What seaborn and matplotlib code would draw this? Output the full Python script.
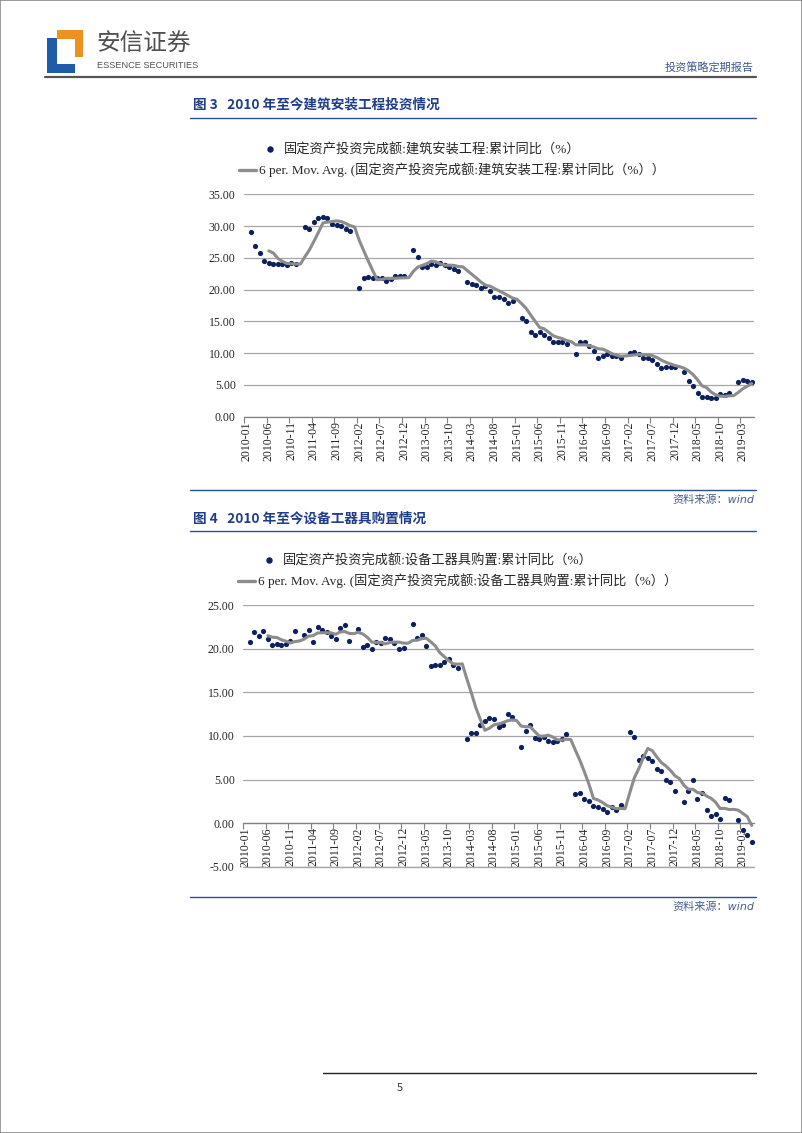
import matplotlib
matplotlib.use('Agg')
import matplotlib.pyplot as plt
import matplotlib.patches as mpatches
from matplotlib.lines import Line2D
import numpy as np
import pandas as pd
import seaborn as sns

sns.set_theme(style='white')
plt.rcParams['font.family'] = ['Noto Sans CJK SC', 'DejaVu Sans']

nan = np.nan

# monthly categories, 2010-01 .. 2019-05 (January has no data point)
months = pd.date_range('2010-01-01', '2019-05-01', freq='MS').strftime('%Y-%m').tolist()

# 固定资产投资完成额:建筑安装工程:累计同比(%)
build_yoy = [
    nan, 29.1, 26.9, 25.8, 24.5, 24.2, 24.1, 24.0, 24.1, 23.8, 24.2, 24.0,   # 2010
    nan, 29.8, 29.5, 30.6, 31.2, 31.4, 31.2, 30.4, 30.1, 30.0, 29.5, 29.3,   # 2011
    nan, 20.2, 21.8, 22.0, 21.9, 21.9, 21.8, 21.3, 21.7, 22.1, 22.2, 22.1,   # 2012
    nan, 26.2, 25.1, 23.5, 23.5, 24.1, 23.9, 24.2, 23.8, 23.6, 23.3, 23.0,   # 2013
    nan, 21.2, 20.9, 20.7, 20.2, 20.5, 19.8, 18.9, 18.8, 18.5, 17.9, 18.2,   # 2014
    nan, 15.6, 15.1, 13.3, 12.9, 13.3, 12.8, 12.4, 11.8, 11.7, 11.8, 11.4,   # 2015
    nan, 9.9, 11.7, 11.8, 11.1, 10.3, 9.3, 9.6, 9.8, 9.5, 9.6, 9.3,          # 2016
    nan, 10.0, 10.2, 9.9, 9.3, 9.3, 8.9, 8.3, 7.7, 7.8, 7.8, 7.8,            # 2017
    nan, 7.1, 5.6, 4.8, 3.7, 3.1, 3.1, 3.0, 3.0, 3.5, 3.4, 3.7,              # 2018
    nan, 5.5, 5.8, 5.6, 5.5,                                                 # 2019
]

# 固定资产投资完成额:设备工器具购置:累计同比(%)
equip_yoy = [
    nan, 20.8, 22.0, 21.5, 22.1, 21.2, 20.5, 20.6, 20.4, 20.6, 20.9, 22.1,   # 2010
    nan, 21.6, 22.2, 20.8, 22.5, 22.2, 21.9, 21.5, 21.2, 22.4, 22.8, 20.9,   # 2011
    nan, 22.3, 20.2, 20.5, 20.0, 20.8, 20.7, 21.3, 21.2, 20.7, 20.0, 20.1,   # 2012
    nan, 22.9, 21.3, 21.6, 20.3, 18.0, 18.1, 18.2, 18.5, 18.8, 18.1, 17.8,   # 2013
    nan, 9.6, 10.4, 10.3, 11.3, 11.7, 12.1, 11.9, 11.0, 11.3, 12.5, 12.2,    # 2014
    nan, 8.7, 10.6, 11.3, 9.8, 9.6, 9.9, 9.4, 9.3, 9.4, 9.6, 10.2,           # 2015
    nan, 3.3, 3.5, 2.8, 2.5, 2.0, 1.8, 1.6, 1.3, 1.8, 1.45, 2.1,             # 2016
    nan, 10.5, 9.9, 7.2, 7.7, 7.5, 7.1, 6.2, 6.0, 4.9, 4.7, 3.7,             # 2017
    nan, 2.4, 3.7, 4.9, 2.8, 3.4, 1.45, 0.8, 1.07, 0.5, 2.9, 2.6,            # 2018
    nan, 0.34, -0.77, -1.34, -2.2,                                           # 2019
]

tick_idx = list(range(0, len(months), 5))
tick_labels = [months[i] for i in tick_idx]

DOT = '#0C1F5E'
MA = '#8C8C8C'
BLUE = '#2A4F96'
GRID = '#A6A6A6'
SERIF = ['Liberation Serif', 'Noto Sans CJK SC']

W, H = 802, 1133
fig = plt.figure(figsize=(W / 100, H / 100), dpi=100)


def fx(x):
    return x / W


def fy(y):
    return 1 - y / H


def hline(x0, x1, y, color, lw):
    fig.add_artist(Line2D([fx(x0), fx(x1)], [fy(y), fy(y)], transform=fig.transFigure,
                          color=color, lw=lw))


def draw_chart(box, values, ylim, name):
    left, top, right, bottom = box
    ax = fig.add_axes([fx(left), fy(bottom), (right - left) / W, (bottom - top) / H])
    df = pd.DataFrame({'idx': range(len(values)), 'val': values})
    # 6 period moving average, Excel style (blank months are skipped in the window)
    df['ma'] = df['val'].rolling(6, min_periods=1).mean()
    sns.scatterplot(data=df.dropna(subset=['val']), x='idx', y='val', ax=ax, color=DOT,
                    s=14, linewidth=0, zorder=3)
    sns.lineplot(data=df[df['idx'] >= 5], x='idx', y='ma', ax=ax, color=MA, lw=2.2, zorder=4)

    for s in ['left', 'right', 'top']:
        ax.spines[s].set_visible(False)
    ax.spines['bottom'].set_color('#808080')
    ax.spines['bottom'].set_linewidth(0.9)
    if ylim[0] < 0:
        ax.spines['bottom'].set_position(('data', 0))

    ax.set_xlim(-0.5, len(values) - 0.5)
    ax.set_ylim(ylim[0] - 0.05, ylim[1] + 0.05)
    yt = np.arange(ylim[0], ylim[1] + 0.1, 5)
    ax.set_yticks(yt)
    ax.set_yticklabels([f'{v:.2f}' for v in yt], family='Liberation Serif', fontsize=8.5)
    ax.set_xticks(tick_idx)
    ax.set_xticklabels(tick_labels, rotation=90, family='Liberation Serif', fontsize=8.5)
    ax.set_xticks(np.arange(-0.5, len(values), 5), minor=True)
    ax.tick_params(axis='x', which='major', length=0, pad=3)
    ax.tick_params(axis='x', which='minor', length=4, color='#808080', width=0.8,
                   direction='out', bottom=True)
    ax.tick_params(axis='y', length=0, pad=6)
    ax.set_xlabel('')
    ax.set_ylabel('')
    ax.yaxis.grid(True, color=GRID, lw=0.9)
    ax.xaxis.grid(False)
    if ylim[0] < 0:
        ax.axhline(ylim[0], color=GRID, lw=1.0, zorder=1, clip_on=False)

    # legend rows
    h_dot = Line2D([], [], ls='none', marker='o', ms=3.6, color=DOT)
    h_line = Line2D([], [], color=MA, lw=2.4)
    lbl1 = f'固定资产投资完成额:{name}:累计同比（%）'
    lbl2 = f'6 per. Mov. Avg. (固定资产投资完成额:{name}:累计同比（%））'
    leg1 = ax.legend([h_dot], [lbl1], loc='center left', bbox_to_anchor=(fx(left + 19), fy(top - 44)),
                     bbox_transform=fig.transFigure, frameon=False, handlelength=1.1,
                     handletextpad=0.5, borderpad=0, borderaxespad=0,
                     prop={'family': SERIF, 'size': 9.5})
    ax.add_artist(leg1)
    ax.legend([h_line], [lbl2], loc='center left', bbox_to_anchor=(fx(left - 5), fy(top - 24)),
              bbox_transform=fig.transFigure, frameon=False, handlelength=1.3,
              handletextpad=0.2, borderpad=0, borderaxespad=0,
              prop={'family': SERIF, 'size': 9.5})
    return ax


# page frame
fig.add_artist(mpatches.Rectangle((0, 0), 1, 1, transform=fig.transFigure, fill=False,
                                  ec='#8A8A8A', lw=1.2))

# header logo
fig.add_artist(mpatches.Rectangle((fx(57), fy(57)), 26 / W, 27 / H, transform=fig.transFigure,
                                  color='#F0901E', lw=0))
fig.add_artist(mpatches.Rectangle((fx(57), fy(64)), 18 / W, 25 / H, transform=fig.transFigure,
                                  color='white', lw=0))
fig.add_artist(mpatches.Rectangle((fx(47), fy(73)), 10 / W, 35 / H, transform=fig.transFigure,
                                  color='#1E5BA8', lw=0))
fig.add_artist(mpatches.Rectangle((fx(47), fy(73)), 28 / W, 9 / H, transform=fig.transFigure,
                                  color='#1E5BA8', lw=0))
fig.text(fx(96), fy(44), '安信证券', fontsize=17, color='#505050', va='center', ha='left')
fig.text(fx(97), fy(66), 'ESSENCE SECURITIES', fontsize=6.6, color='#505050', va='center',
         ha='left', family='Liberation Sans')
fig.text(fx(754), fy(68), '投资策略定期报告', fontsize=8, color='#3F5A8F', va='center', ha='right')
hline(45, 756, 77, '#555555', 1.6)

SRC_FONT = ['DejaVu Sans', 'Noto Sans CJK SC']

# figure 3
fig.text(fx(193), fy(105), '图 3   2010 年至今建筑安装工程投资情况', fontsize=9.8,
         fontweight='bold', color='#1F3C88', va='center', ha='left')
hline(190, 756, 118, BLUE, 1.0)
draw_chart((244, 194, 754, 417), build_yoy, (0, 35), '建筑安装工程')
hline(190, 756, 490, BLUE, 1.0)
fig.text(fx(754), fy(500), '资料来源：wind', fontsize=8, color='#4A5E8C', style='italic',
         family=SRC_FONT, va='center', ha='right')

# figure 4
fig.text(fx(193), fy(519), '图 4   2010 年至今设备工器具购置情况', fontsize=9.8,
         fontweight='bold', color='#1F3C88', va='center', ha='left')
hline(190, 756, 531, BLUE, 1.0)
draw_chart((243, 605, 754, 867), equip_yoy, (-5, 25), '设备工器具购置')
hline(190, 756, 897, BLUE, 1.0)
fig.text(fx(754), fy(907), '资料来源：wind', fontsize=8, color='#4A5E8C', style='italic',
         family=SRC_FONT, va='center', ha='right')

# footer
hline(323, 756, 1073, '#222222', 1.0)
fig.text(fx(400), fy(1088), '5', fontsize=8, color='#333333', va='center', ha='center')

fig.savefig('out.png', dpi=100)
